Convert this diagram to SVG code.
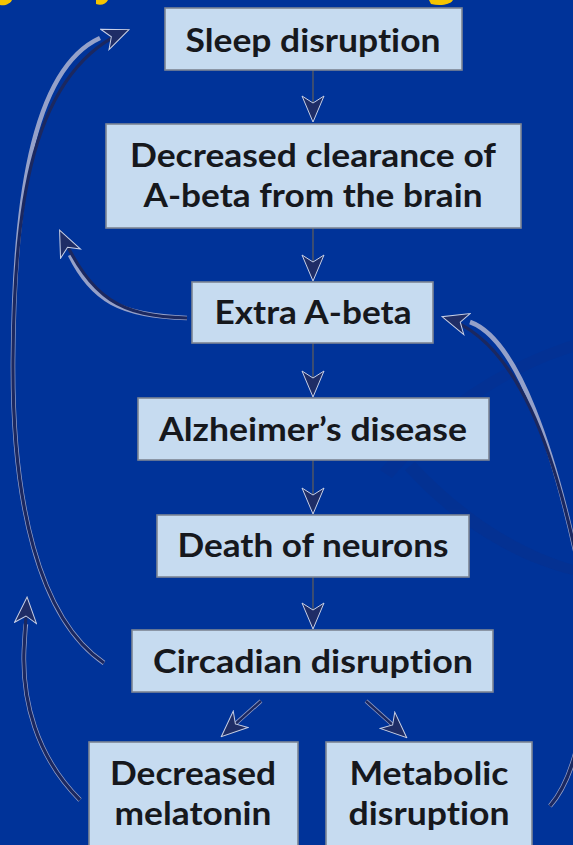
<svg xmlns="http://www.w3.org/2000/svg" width="573" height="845" viewBox="0 0 573 845">
<style>
.box{fill:#c6dbf0;stroke:#7c8594;stroke-width:1.6}
.lbl{font-family:Lato,"Noto Sans","DejaVu Sans",sans-serif;font-weight:bold;font-size:32px;fill:#16181d;text-anchor:middle;font-variant-ligatures:none}
.vline{stroke:#4a5468;stroke-width:1.6;fill:none}
.halo{stroke:#95a1c9;stroke-width:4.6;fill:none;stroke-linecap:butt}
.core{stroke:#1b2860;stroke-width:3.2;fill:none;stroke-linecap:butt}
</style>
<defs>
<marker id="ah" markerUnits="userSpaceOnUse" viewBox="-1 -1 28 24" markerWidth="28" markerHeight="24" refX="25" refY="11" orient="auto">
<path d="M0,0 L26,11 L0,22 L7,11 Z" fill="#1f2d66" stroke="#c8d0e6" stroke-width="1"/>
</marker>
</defs>
<rect width="573" height="845" fill="#003399"/>
<g id="swoosh" opacity="0.35">
<path d="M380,470 C440,400 510,360 573,340 L573,352 C510,372 450,410 392,478 Z" fill="#0a2f8c"/>
<path d="M405,470 C450,520 510,560 573,575 L573,565 C515,548 460,510 415,462 Z" fill="#0b2f86"/>
</g>
<g id="title-fragments" fill="#f5c400">
<path d="M0,0 L12,0 C10,4 5,6 0,5 Z"/>
<path d="M96,0 L108,0 C106,4 101,6 96,4 Z"/>
<path d="M429,0 L453,0 C450,5 440,6 431,4 Z"/>
</g>
<g id="connectors">
<line class="vline" x1="313" y1="70" x2="313" y2="121" marker-end="url(#ah)"/>
<line class="vline" x1="313" y1="228" x2="313" y2="280" marker-end="url(#ah)"/>
<line class="vline" x1="313" y1="343" x2="313" y2="396" marker-end="url(#ah)"/>
<line class="vline" x1="313" y1="460" x2="313" y2="513" marker-end="url(#ah)"/>
<line class="vline" x1="313" y1="577" x2="313" y2="628" marker-end="url(#ah)"/>
<g id="diag">
<path class="halo" d="M261,701 L234,725" style="stroke-width:4"/>
<path class="core" d="M261,701 L222,736" style="stroke-width:2.4" marker-end="url(#ah)"/>
<path class="halo" d="M366,701 L394,726" style="stroke-width:4"/>
<path class="core" d="M366,701 L406,737" style="stroke-width:2.4" marker-end="url(#ah)"/>
</g>
<g id="curves">
<path class="halo" d="M104,663 C38,618 12,500 13,360 C14,210 30,70 100,38"/>
<path class="core" d="M104,663 C38,618 12,500 13,360 C14,210 30,70 128,30" marker-end="url(#ah)"/>
<path class="halo" d="M187,318 C120,316 92,300 70,255"/>
<path class="core" d="M187,318 C120,316 92,300 60,231" marker-end="url(#ah)"/>
<path class="halo" d="M80,800 C36,756 22,700 24,650 C25,635 25,628 26,624"/>
<path class="core" d="M80,800 C36,756 22,700 24,650 C25,630 26,615 27,598" marker-end="url(#ah)"/>
<path class="halo" d="M550,806 C590,760 595,640 575,550 C555,460 520,340 470,322"/>
<path class="core" d="M550,806 C590,760 595,640 575,550 C555,460 520,340 443,317" marker-end="url(#ah)"/>
</g>
</g>
<g id="n-sleep"><rect class="box" x="165" y="8" width="297" height="62"/><text class="lbl" x="313" y="52" textLength="255" lengthAdjust="spacingAndGlyphs">Sleep disruption</text></g>
<g id="n-clearance"><rect class="box" x="106" y="124" width="415" height="104"/><text class="lbl" x="313" y="167" textLength="366" lengthAdjust="spacingAndGlyphs">Decreased clearance of</text><text class="lbl" x="313" y="207" textLength="339" lengthAdjust="spacingAndGlyphs">A-beta from the brain</text></g>
<g id="n-extra"><rect class="box" x="192" y="282" width="241" height="61"/><text class="lbl" x="313" y="324" textLength="197" lengthAdjust="spacingAndGlyphs">Extra A-beta</text></g>
<g id="n-alz"><rect class="box" x="138" y="398" width="351" height="62"/><text class="lbl" x="313" y="441" textLength="308" lengthAdjust="spacingAndGlyphs">Alzheimer’s disease</text></g>
<g id="n-death"><rect class="box" x="157" y="515" width="312" height="62"/><text class="lbl" x="313" y="557" textLength="271" lengthAdjust="spacingAndGlyphs">Death of neurons</text></g>
<g id="n-circ"><rect class="box" x="132" y="630" width="361" height="62"/><text class="lbl" x="313" y="673" textLength="320" lengthAdjust="spacingAndGlyphs">Circadian disruption</text></g>
<g id="n-mel"><rect class="box" x="89" y="742" width="209" height="110"/><text class="lbl" x="193" y="785" textLength="166" lengthAdjust="spacingAndGlyphs">Decreased</text><text class="lbl" x="193" y="825" textLength="157" lengthAdjust="spacingAndGlyphs">melatonin</text></g>
<g id="n-met"><rect class="box" x="326" y="742" width="206" height="110"/><text class="lbl" x="429" y="785" textLength="159" lengthAdjust="spacingAndGlyphs">Metabolic</text><text class="lbl" x="429" y="825" textLength="161" lengthAdjust="spacingAndGlyphs">disruption</text></g>
</svg>
